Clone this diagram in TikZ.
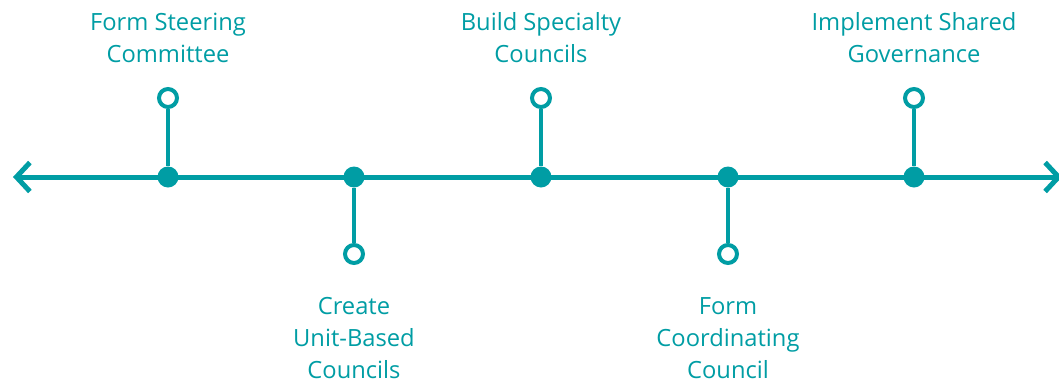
\documentclass[tikz,border=0pt]{standalone}
\usepackage{fontspec}
\setmainfont{Open Sans}
\usetikzlibrary{arrows.meta}
\definecolor{teal}{RGB}{0,157,164}

\begin{document}
\begin{tikzpicture}[x=0.02cm, y=-0.02cm]
	\useasboundingbox (0,0) rectangle (1059,383);
	% milestones on the line
	\node[circle, fill=teal, inner sep=0pt, minimum size=0.42cm] (d1) at (168,177) {};
	\node[circle, fill=teal, inner sep=0pt, minimum size=0.42cm] (d2) at (354,177) {};
	\node[circle, fill=teal, inner sep=0pt, minimum size=0.42cm] (d3) at (541,177) {};
	\node[circle, fill=teal, inner sep=0pt, minimum size=0.42cm] (d4) at (728,177) {};
	\node[circle, fill=teal, inner sep=0pt, minimum size=0.42cm] (d5) at (914,177) {};
	
	\node[circle, draw=teal, line width=0.08cm, fill=white, inner sep=0pt, minimum size=0.36cm] (c1) at (168,98) {};
	\node[circle, draw=teal, line width=0.08cm, fill=white, inner sep=0pt, minimum size=0.36cm] (c2) at (354,254) {};
	\node[circle, draw=teal, line width=0.08cm, fill=white, inner sep=0pt, minimum size=0.36cm] (c3) at (541,98) {};
	\node[circle, draw=teal, line width=0.08cm, fill=white, inner sep=0pt, minimum size=0.36cm] (c4) at (728,254) {};
	\node[circle, draw=teal, line width=0.08cm, fill=white, inner sep=0pt, minimum size=0.36cm] (c5) at (914,98) {};
	
	\coordinate (L) at (13,177);
	\coordinate (R) at (1062,177);
	\draw[teal, line width=0.1cm, {Straight Barb[length=0.27cm, width=0.58cm]}-{Straight Barb[length=0.27cm, width=0.58cm]}] (L) -- (R);
	
	\draw[teal, line width=0.08cm] (d1) -- (c1);
	\draw[teal, line width=0.08cm] (d2) -- (c2);
	\draw[teal, line width=0.08cm] (d3) -- (c3);
	\draw[teal, line width=0.08cm] (d4) -- (c4);
	\draw[teal, line width=0.08cm] (d5) -- (c5);
	
	% labels
	\node[text=teal, align=center, font=\fontsize{13.5}{18.2}\selectfont] (l1) at (168,38) {Form Steering\\Committee};
	\node[text=teal, align=center, font=\fontsize{13.5}{18.2}\selectfont] (l2) at (354,338) {Create\\Unit-Based\\Councils};
	\node[text=teal, align=center, font=\fontsize{13.5}{18.2}\selectfont] (l3) at (541,38) {Build Specialty\\Councils};
	\node[text=teal, align=center, font=\fontsize{13.5}{18.2}\selectfont] (l4) at (728,338) {Form\\Coordinating\\Council};
	\node[text=teal, align=center, font=\fontsize{13.5}{18.2}\selectfont] (l5) at (914,38) {Implement Shared\\Governance};
\end{tikzpicture}
\end{document}
